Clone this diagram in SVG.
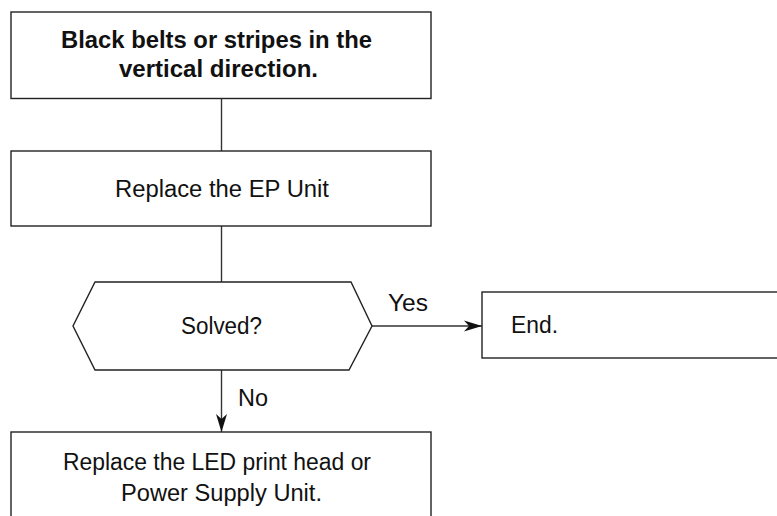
<svg xmlns="http://www.w3.org/2000/svg" width="777" height="516" viewBox="0 0 777 516">
  <style>
    .box { fill: #ffffff; stroke: #222222; stroke-width: 1.4; }
    .edge { fill: none; stroke: #333333; stroke-width: 1.4; }
    .t { font-family: "Liberation Sans", Arial, sans-serif; font-size: 23.5px; fill: #111111; }
    .b { font-weight: bold; }
  </style>
  <defs>
    <marker id="arrow" markerUnits="userSpaceOnUse" markerWidth="20" markerHeight="12" refX="18" refY="6" orient="auto">
      <path d="M0,0.5 L18,6 L0,11.5 L5,6 z" fill="#111111"/>
    </marker>
  </defs>
  <rect width="777" height="516" fill="#ffffff"/>

  <g id="connectors">
    <line class="edge" x1="221.5" y1="98" x2="221.5" y2="151"/>
    <line class="edge" x1="221.5" y1="226" x2="221.5" y2="282"/>
    <line class="edge" x1="372" y1="326" x2="482" y2="326" marker-end="url(#arrow)"/>
    <line class="edge" x1="221.5" y1="370" x2="221.5" y2="432" marker-end="url(#arrow)"/>
    <text class="t" x="388" y="311" textLength="40" lengthAdjust="spacingAndGlyphs">Yes</text>
    <text class="t" x="238" y="406" textLength="30" lengthAdjust="spacingAndGlyphs">No</text>
  </g>

  <g id="node-symptom">
    <rect class="box" x="11" y="12" width="420" height="86.5"/>
    <text class="t b" x="61" y="48" textLength="311" lengthAdjust="spacingAndGlyphs">Black belts or stripes in the</text>
    <text class="t b" x="119" y="77" textLength="199" lengthAdjust="spacingAndGlyphs">vertical direction.</text>
  </g>

  <g id="node-replace-ep">
    <rect class="box" x="11" y="151" width="420" height="75"/>
    <text class="t" x="115" y="197" textLength="214" lengthAdjust="spacingAndGlyphs">Replace the EP Unit</text>
  </g>

  <g id="node-solved">
    <polygon class="box" points="95,282 351,282 372,326 349,370 95,370 73,326"/>
    <text class="t" x="181" y="334" textLength="81" lengthAdjust="spacingAndGlyphs">Solved?</text>
  </g>

  <g id="node-end">
    <rect class="box" x="482" y="292" width="320" height="66"/>
    <text class="t" x="511" y="333" textLength="47" lengthAdjust="spacingAndGlyphs">End.</text>
  </g>

  <g id="node-replace-led">
    <rect class="box" x="11" y="432" width="420" height="100"/>
    <text class="t" x="63" y="470" textLength="308" lengthAdjust="spacingAndGlyphs">Replace the LED print head or</text>
    <text class="t" x="121" y="500.5" textLength="201" lengthAdjust="spacingAndGlyphs">Power Supply Unit.</text>
  </g>
</svg>
